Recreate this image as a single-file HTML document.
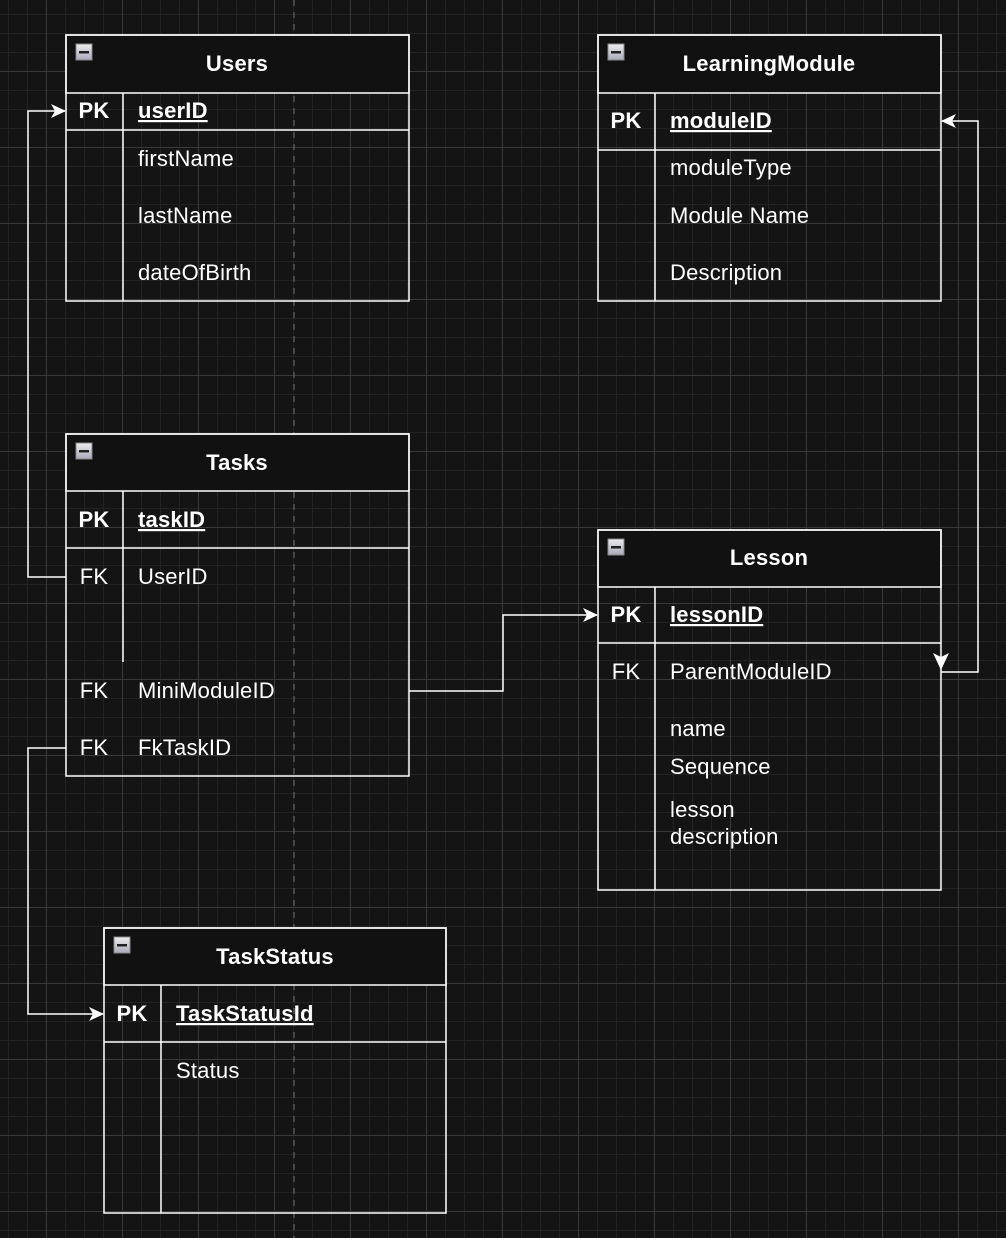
<!DOCTYPE html>
<html><head><meta charset="utf-8"><style>
html,body{margin:0;padding:0;}
body{width:1006px;height:1238px;overflow:hidden;background-color:#141414;
background-image:
linear-gradient(to right,#3a3a3a 1px,transparent 1px),
linear-gradient(to bottom,#3a3a3a 1px,transparent 1px),
linear-gradient(to right,#232323 1px,transparent 1px),
linear-gradient(to bottom,#232323 1px,transparent 1px);
background-size:76px 76px,76px 76px,19px 19px,19px 19px;
background-position:46px 0,0 71px,8px 0,0 14px;}
svg{position:absolute;left:0;top:0;}
text{font-family:"Liberation Sans",Helvetica,Arial,sans-serif;font-size:22px;letter-spacing:0.2px;fill:#fff;}
.b{font-weight:bold;}
.h{font-weight:bold;text-anchor:middle;}
.k{text-anchor:middle;}
</style></head><body>
<svg width="1006" height="1238" viewBox="0 0 1006 1238">
<defs>
<marker id="a" markerWidth="16" markerHeight="16" refX="14" refY="8" orient="auto" markerUnits="userSpaceOnUse">
<path d="M0,1 L15,8 L0,15 L4,8 Z" fill="#fff"/></marker>
<linearGradient id="g" x1="0" y1="0" x2="0" y2="1"><stop offset="0" stop-color="#eee"/><stop offset="1" stop-color="#aab"/></linearGradient>
</defs>
<line x1="294" y1="0" x2="294" y2="1238" stroke="#555" stroke-width="1.5" stroke-dasharray="6,6"/>
<g fill="none" stroke="#fff" stroke-width="1.5">
<rect x="66" y="35" width="343" height="58" fill="#111"/>
<rect x="66" y="35" width="343" height="266"/>
<line x1="66" y1="130" x2="409" y2="130"/>
<line x1="123" y1="93" x2="123" y2="301"/>
<rect x="598" y="35" width="343" height="58" fill="#111"/>
<rect x="598" y="35" width="343" height="266"/>
<line x1="598" y1="150" x2="941" y2="150"/>
<line x1="655" y1="93" x2="655" y2="301"/>
<rect x="66" y="434" width="343" height="57" fill="#111"/>
<rect x="66" y="434" width="343" height="342"/>
<line x1="66" y1="548" x2="409" y2="548"/>
<line x1="123" y1="491" x2="123" y2="662"/>
<rect x="598" y="530" width="343" height="57" fill="#111"/>
<rect x="598" y="530" width="343" height="360"/>
<line x1="598" y1="643" x2="941" y2="643"/>
<line x1="655" y1="587" x2="655" y2="890"/>
<rect x="104" y="928" width="342" height="57" fill="#111"/>
<rect x="104" y="928" width="342" height="285"/>
<line x1="104" y1="1042" x2="446" y2="1042"/>
<line x1="161" y1="985" x2="161" y2="1213"/>
<path d="M66,577 H28 V111 H65" marker-end="url(#a)"/>
<path d="M409,691 H503 V615 H597" marker-end="url(#a)"/>
<path d="M66,748 H28 V1014 H103" marker-end="url(#a)"/>
<path d="M941,672 H978 V121 H942" marker-end="url(#a)"/>
</g>
<path d="M933,653 L941,670 L949,653 L941,657 Z" fill="#fff"/>
<g stroke="#888" stroke-width="1" fill="url(#g)">
<rect x="76" y="44" width="16" height="16"/><rect x="608" y="44" width="16" height="16"/>
<rect x="76" y="443" width="16" height="16"/><rect x="608" y="539" width="16" height="16"/>
<rect x="114" y="937" width="16" height="16"/>
</g>
<g fill="#222"><rect x="79" y="51" width="10" height="2.5"/><rect x="611" y="51" width="10" height="2.5"/>
<rect x="79" y="450" width="10" height="2.5"/><rect x="611" y="546" width="10" height="2.5"/>
<rect x="117" y="944" width="10" height="2.5"/></g>
<text class="h" x="237" y="71">Users</text>
<text class="b k" x="94" y="118">PK</text>
<text class="b" x="138" y="118" text-decoration="underline">userID</text>
<text x="138" y="166">firstName</text>
<text x="138" y="223">lastName</text>
<text x="138" y="280">dateOfBirth</text>

<text class="h" x="769" y="71">LearningModule</text>
<text class="b k" x="626" y="128">PK</text>
<text class="b" x="670" y="128" text-decoration="underline">moduleID</text>
<text x="670" y="175">moduleType</text>
<text x="670" y="223">Module Name</text>
<text x="670" y="280">Description</text>

<text class="h" x="237" y="470">Tasks</text>
<text class="b k" x="94" y="527">PK</text>
<text class="b" x="138" y="527" text-decoration="underline">taskID</text>
<text class="k" x="94" y="584">FK</text>
<text x="138" y="584">UserID</text>
<text class="k" x="94" y="698">FK</text>
<text x="138" y="698">MiniModuleID</text>
<text class="k" x="94" y="755">FK</text>
<text x="138" y="755">FkTaskID</text>

<text class="h" x="769" y="565">Lesson</text>
<text class="b k" x="626" y="622">PK</text>
<text class="b" x="670" y="622" text-decoration="underline">lessonID</text>
<text class="k" x="626" y="679">FK</text>
<text x="670" y="679">ParentModuleID</text>
<text x="670" y="736">name</text>
<text x="670" y="774">Sequence</text>
<text x="670" y="817">lesson</text>
<text x="670" y="844">description</text>

<text class="h" x="275" y="964">TaskStatus</text>
<text class="b k" x="132" y="1021">PK</text>
<text class="b" x="176" y="1021" text-decoration="underline">TaskStatusId</text>
<text x="176" y="1078">Status</text>
</svg>
</body></html>
